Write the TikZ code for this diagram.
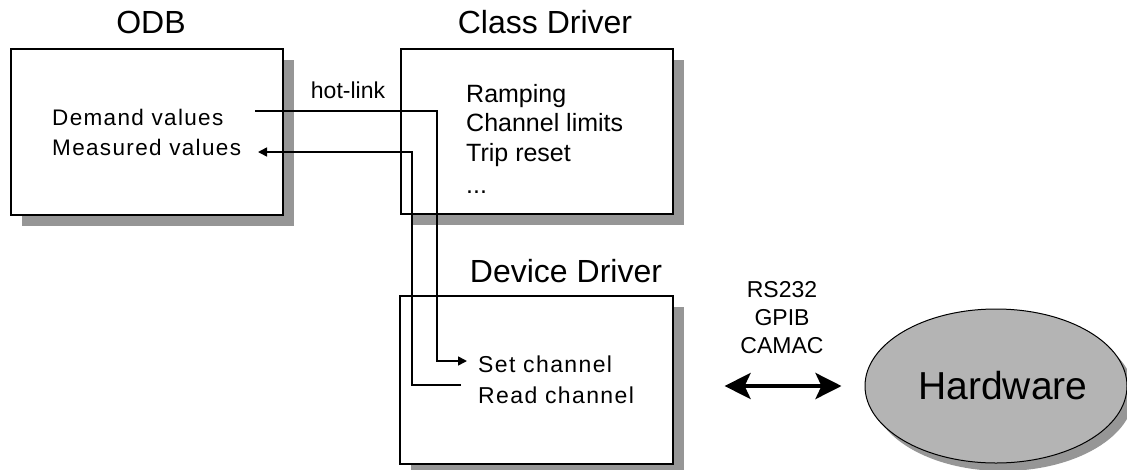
\documentclass[tikz,border=0pt]{standalone}
\usepackage{fontspec}
\setmainfont{Liberation Sans}
\usetikzlibrary{arrows.meta,shapes.geometric,shadows}

\definecolor{shadowgray}{RGB}{150,150,150}
\definecolor{hwgray}{RGB}{180,180,180}

\tikzset{
  panel/.style={draw=black, line width=1.6pt, fill=white, rectangle,
    anchor=north west, inner sep=0pt,
    general shadow={fill=shadowgray, shadow xshift=11pt, shadow yshift=-11pt}},
  title/.style={anchor=base, inner sep=0pt, font=\fontsize{32}{36}\selectfont},
  item/.style={anchor=base west, inner sep=0pt, font=\fontsize{23}{27}\selectfont},
  odbitem/.style={item, font=\fontsize{22.5}{27}\selectfont\addfontfeature{LetterSpace=6}},
  clsitem/.style={item, font=\fontsize{25}{29}\selectfont},
  devitem/.style={item, font=\fontsize{23}{27}\selectfont\addfontfeature{LetterSpace=6}},
  bustext/.style={anchor=base, inner sep=0pt, font=\fontsize{23}{27}\selectfont},
  link/.style={draw=black, line width=1.6pt},
  linkarrow/.style={link, -{Triangle[length=9pt,width=9pt]}},
  bus/.style={draw=black, line width=4pt,
    {Stealth[length=26pt,width=26pt,inset=6pt]}-{Stealth[length=26pt,width=26pt,inset=6pt]}},
  device/.style={ellipse, draw=black, line width=1pt, fill=hwgray, inner sep=0pt,
    minimum width=262pt, minimum height=154pt,
    font=\fontsize{39}{44}\selectfont,
    general shadow={fill=shadowgray, shadow xshift=7pt, shadow yshift=-8pt}}
}

\begin{document}
\begin{tikzpicture}[x=1pt,y=-1pt]
  \useasboundingbox (0,0) rectangle (1127,469);
  \clip (0,0) rectangle (1127,469);

  % the three program blocks
  \node[panel, minimum width=272pt, minimum height=166pt] (odb) at (10,48) {};
  \node[panel, minimum width=272pt, minimum height=165pt] (cls) at (400,48) {};
  \node[panel, minimum width=273pt, minimum height=168pt] (dev) at (399,295) {};

  \node[title] (odbtitle) at (151,33) {ODB};
  \node[title] (clstitle) at (545,33) {Class Driver};
  \node[title] (devtitle) at (566,282) {Device Driver};

  % block contents
  \node[odbitem] (dem)  at (52,125) {Demand values};
  \node[odbitem] (meas) at (52,155) {Measured values};

  \node[clsitem] (ramp)  at (466,102) {Ramping};
  \node[clsitem] (lim)   at (466,131) {Channel limits};
  \node[clsitem] (trip)  at (466,161) {Trip reset};
  \node[clsitem] (more)  at (466,193) {...};

  \node[devitem] (setch)  at (478,372) {Set channel};
  \node[devitem] (readch) at (478,403) {Read channel};

  \node[item, anchor=base] (hot) at (348,98) {hot-link};

  % hardware
  \node[device] (hw) at (996,386) {\hspace*{14pt}Hardware};

  \node[bustext] (rs)    at (782,297) {RS232};
  \node[bustext] (gpib)  at (782,325) {GPIB};
  \node[bustext] (camac) at (782,353) {CAMAC};

  % hot-link connections
  \coordinate (demOut)  at (255,111);
  \coordinate (setIn)   at (467,361);
  \coordinate (bendSet) at (437,200);
  \coordinate (readOut) at (461,385);
  \coordinate (measIn)  at (258,152);
  \coordinate (bendMeas) at (412,200);

  \draw[linkarrow] (demOut) -| (bendSet) |- (setIn);
  \draw[linkarrow] (readOut) -| (bendMeas) |- (measIn);

  % bus between device driver and hardware
  \draw[bus, shorten <=51pt, shorten >=23pt] (hw.west -| dev.east) -- (hw.west);
\end{tikzpicture}
\end{document}
